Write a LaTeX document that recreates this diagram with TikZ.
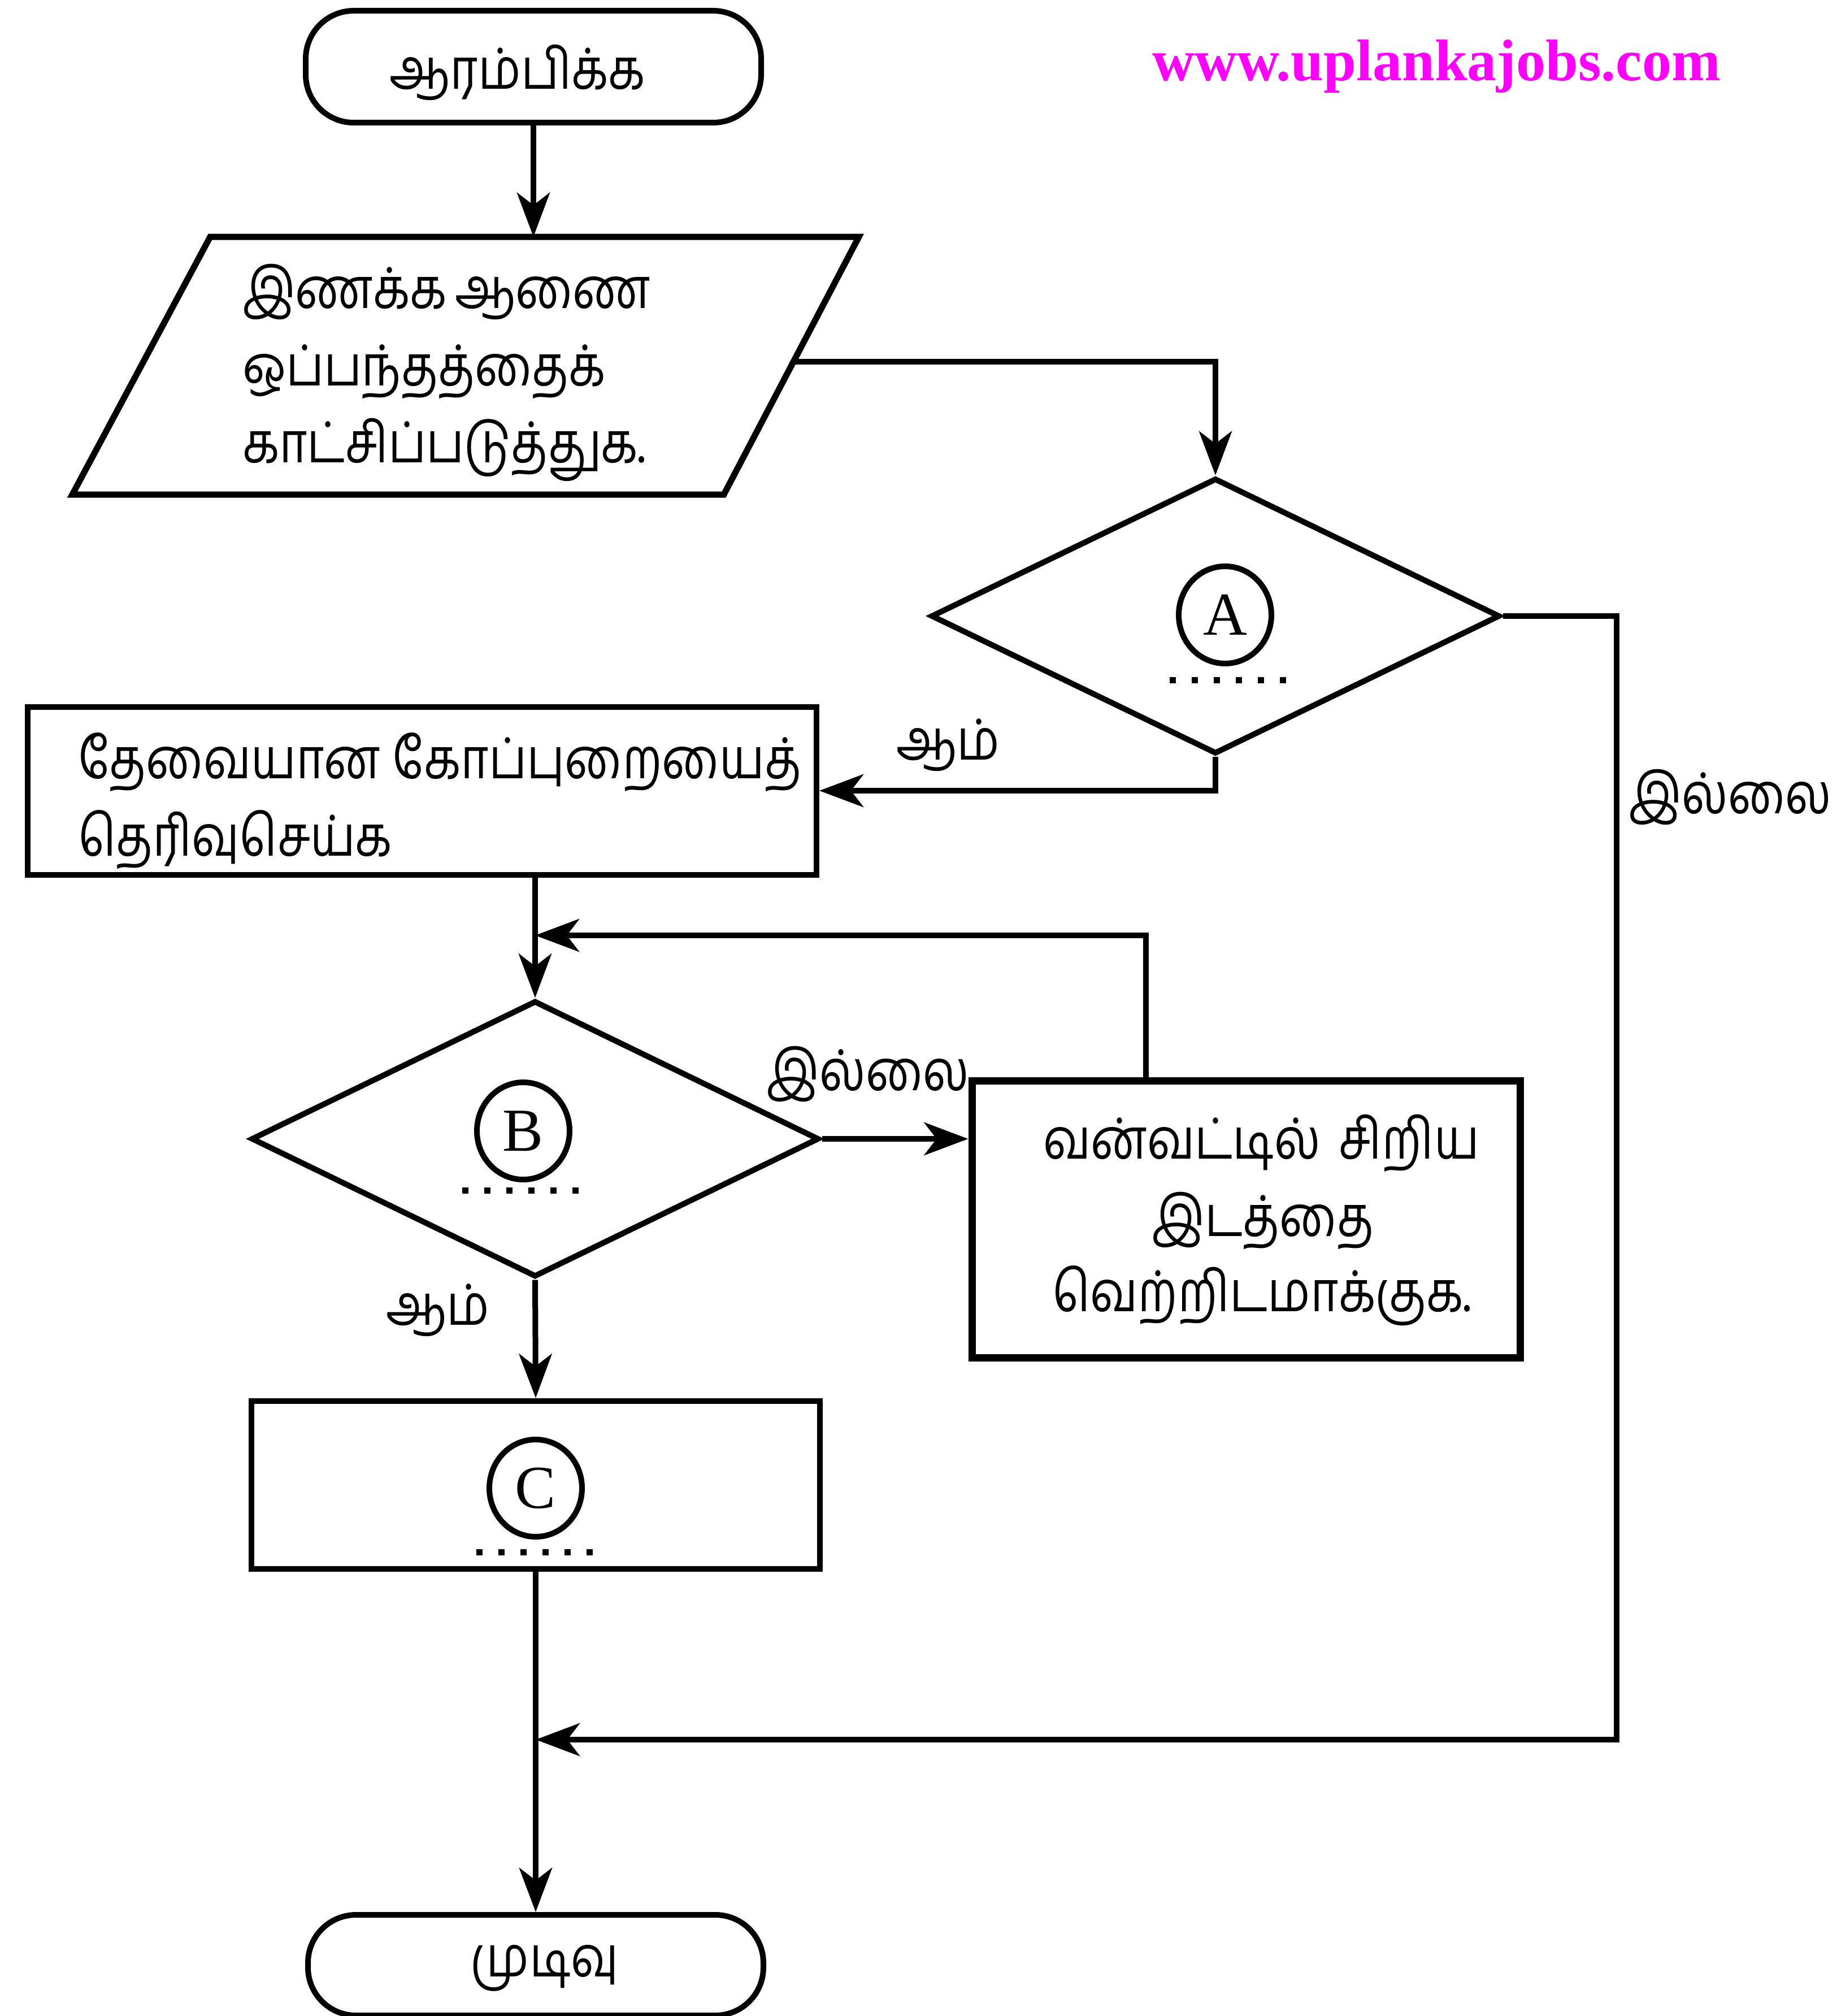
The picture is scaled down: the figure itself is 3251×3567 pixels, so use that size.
\documentclass[tikz,border=0pt]{standalone}
\usepackage{fontspec}
\usetikzlibrary{shapes.geometric,arrows.meta,calc}
\newfontfamily\tamil[Script=Tamil,FakeStretch=0.85]{Hind Madurai}
\newfontfamily\serifA{Liberation Serif}
\newfontfamily\serifB{Liberation Serif Bold}
\definecolor{wmcol}{RGB}{255,0,255}
\begin{document}
\begin{tikzpicture}[x=1pt,y=-1pt,
  ln/.style={draw, line width=10pt},
  term/.style={ln, line width=10pt, rounded corners=85pt, minimum width=806pt, inner sep=0pt},
  box/.style={ln, rectangle, inner sep=0pt},
  dia/.style={ln, diamond, inner sep=0pt, line width=10pt},
  txt/.style={inner sep=0pt, font=\tamil\fontsize{100}{130}\selectfont},
  circ/.style={ln, ellipse, minimum width=164pt, minimum height=172pt, inner sep=0pt, font=\serifA\fontsize{108}{120}\selectfont},
  dots/.style={line width=11pt, dash pattern=on 11pt off 28pt},
  arr/.style={line width=10pt, -{Stealth[length=78pt,width=58pt,inset=22pt]}}
]
\useasboundingbox (0,0) rectangle (3251,3567);

% watermark
\node[inner sep=0pt, anchor=base, text=wmcol, font=\serifB\fontsize{104}{110}\selectfont] (wm) at (2542,143) {www.uplankajobs.com};

% start
\node[term, minimum height=198pt] (start) at (944,118) {};
\node[txt] (startt) at (916,128) {ஆரம்பிக்க};

% input/output parallelogram
\coordinate (ioTL) at (372,419);
\coordinate (ioTR) at (1520,419);
\coordinate (ioBR) at (1281,875);
\coordinate (ioBL) at (128,875);
\draw[line width=11pt, line join=miter] (ioTL) -- (ioTR) -- (ioBR) -- (ioBL) -- cycle;
\coordinate (ioN) at (944,419);
\coordinate (ioE) at (1402,640);
\node[txt, anchor=base west] (io1) at (429,545) {\makebox[722pt][l]{இணக்க\hfill ஆணை}};
\node[txt, anchor=base west] (io2) at (429,682) {ஒப்பந்தத்தைக்};
\node[txt, anchor=base west] (io3) at (429,818) {காட்சிப்படுத்துக.};

% decision A
\node[dia, minimum width=1007pt, minimum height=488pt] (dA) at (2151,1090) {};
\node[circ] (cA) at (2168,1088) {A};
\draw[dots] (2070,1203) -- (2276,1203);

% rect 1
\node[box, minimum width=1396pt, minimum height=297pt] (r1) at (747,1399) {};
\node[txt, anchor=base west] (r1a) at (138,1377) {\makebox[1280pt][l]{தேவையான\hfill கோப்புறையைத்}};
\node[txt, anchor=base west] (r1b) at (138,1514) {தெரிவுசெய்க};

% decision B
\node[dia, minimum width=1005pt, minimum height=489pt] (dB) at (947,2015) {};
\node[circ] (cB) at (926,2001) {B};
\draw[dots] (818,2106) -- (1024,2106);

% rect 2
\node[box, line width=13pt, minimum width=970pt, minimum height=490pt] (r2) at (2205,2157) {};
\node[txt, anchor=base] (r2a) at (2232,2050) {\makebox[772pt][l]{வன்வட்டில்\hfill சிறிய}};
\node[txt, anchor=base] (r2b) at (2235,2187) {இடத்தை};
\node[txt, anchor=base] (r2c) at (2233,2320) {வெற்றிடமாக்குக.};

% rect 3
\node[box, minimum width=1006pt, minimum height=297pt] (r3) at (948,2627) {};
\node[circ] (cC) at (948,2633) {C};
\draw[dots] (843,2746) -- (1049,2746);

% end
\node[term, minimum height=178pt] (end) at (948,3477) {};
\node[txt] (endt) at (964,3482) {முடிவு};

% labels
\node[txt] (lA1) at (1678,1318) {ஆம்};
\node[txt] (lA2) at (3062,1410) {இல்லை};
\node[txt] (lB1) at (1536,1900) {இல்லை};
\node[txt] (lB2) at (775,2318) {ஆம்};

% helper coordinates
\coordinate (lp) at (2028,1655);
\coordinate (nA) at (2861,3078);
\coordinate (j2) at (r3.south |- nA);

% connectors
\draw[arr] (start.south) -- (start.south |- ioN);
\draw[arr] (ioE) -| (dA.north);
\draw[arr] (dA.south) |- (r1.east);
\draw[arr] (dA.east) -| (nA) -- (j2);
\draw[arr] (dB.north |- r1.south) -- (dB.north);
\draw[arr] (lp |- r2.north) -- (lp) -- (lp -| dB.north);
\draw[arr] (dB.east) -- (dB.east -| r2.west);
\draw[arr] (dB.south) -- (r3.north);
\draw[arr] (r3.south) -- (end.north);
\end{tikzpicture}
\end{document}
